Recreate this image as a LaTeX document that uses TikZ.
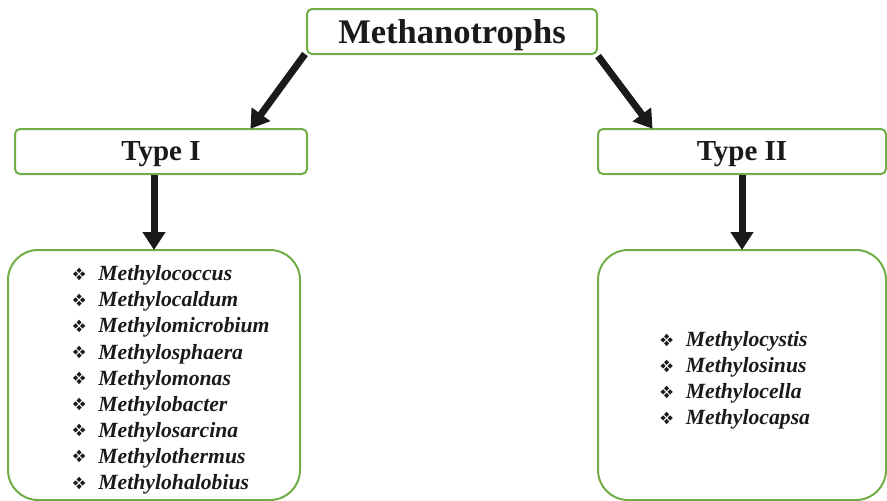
\documentclass[tikz,border=0pt]{standalone}
\usepackage{fontspec}
\setmainfont{Liberation Serif}
\usepackage{pifont}
\usetikzlibrary{arrows.meta}
\definecolor{boxgreen}{HTML}{70AD47}
\definecolor{ink}{HTML}{1A1A1A}
\newcommand\bul{\makebox[26pt][l]{\fontsize{17.5}{17.5}\selectfont\raisebox{0.5pt}{\ding{118}}}}
\tikzset{
  hdr/.style={draw=boxgreen, line width=2pt, rounded corners=5pt, inner sep=0pt, text=ink, text depth=0pt, font=\bfseries},
  listbox/.style={draw=boxgreen, line width=2pt, rounded corners=30pt, inner sep=0pt},
  listtext/.style={align=left, inner sep=0pt, text=ink, font=\fontsize{21.7}{26.1}\selectfont\bfseries\itshape},
  arr/.style={draw=ink, line width=7pt, -{Triangle[width=22pt,length=18pt]}, shorten >=-1pt}
}
\begin{document}
\begin{tikzpicture}[x=1pt,y=-1pt]
\useasboundingbox (0,0) rectangle (887,501);
\node[hdr, minimum width=290pt, minimum height=45pt, font=\fontsize{34.5}{40}\selectfont\bfseries] (m) at (452,31.5) {Methanotrophs};
\node[hdr, minimum width=292pt, minimum height=45pt, font=\fontsize{29}{34}\selectfont\bfseries] (t1) at (161,151.5) {Type I};
\node[hdr, minimum width=288pt, minimum height=45pt, font=\fontsize{29}{34}\selectfont\bfseries] (t2) at (742,151.5) {Type II};
\node[listbox, minimum width=292pt, minimum height=250pt] (l1) at (154,375) {};
\node[listbox, minimum width=288pt, minimum height=250pt] (l2) at (742,375) {};
\node[listtext] (lt1) at (171,380) {\bul Methylococcus\\ \bul Methylocaldum\\ \bul Methylomicrobium\\ \bul Methylosphaera\\ \bul Methylomonas\\ \bul Methylobacter\\ \bul Methylosarcina\\ \bul Methylothermus\\ \bul Methylohalobius};
\node[listtext] (lt2) at (735,380.5) {\bul Methylocystis\\ \bul Methylosinus\\ \bul Methylocella\\ \bul Methylocapsa};
\draw[arr] ([xshift=-1pt,yshift=1pt]m.south west) -- ([xshift=-57pt]t1.north east);
\draw[arr] ([yshift=-1pt]m.south east) -- ([xshift=55pt]t2.north west);
\draw[arr] (l1.north |- t1.south) -- (l1.north);
\draw[arr] (l2.north |- t2.south) -- (l2.north);
\end{tikzpicture}
\end{document}
